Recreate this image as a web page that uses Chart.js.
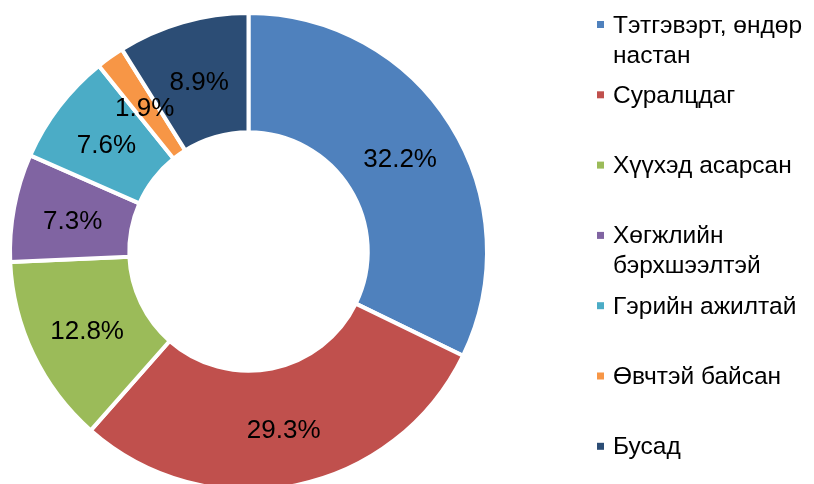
<!DOCTYPE html>
<html>
<head>
<meta charset="utf-8">
<script src="https://cdn.jsdelivr.net/npm/chart.js@4/dist/chart.umd.min.js"></script>
<style>
  html, body { margin: 0; padding: 0; background: #fff; overflow: hidden; }
  #wrap { width: 814px; height: 484px; overflow: hidden; position: relative; }
  canvas { display: block; }
</style>
</head>
<body>
<div id="wrap"><canvas id="c" width="814" height="500"></canvas></div>
<script>
// Categories (each entry is the lines of a legend label)
const categories = [
  ['Тэтгэвэрт, өндөр', 'настан'],
  ['Суралцдаг'],
  ['Хүүхэд асарсан'],
  ['Хөгжлийн', 'бэрхшээлтэй'],
  ['Гэрийн ажилтай'],
  ['Өвчтэй байсан'],
  ['Бусад']
];
// Percent shares
const values = [32.2, 29.3, 12.8, 7.3, 7.6, 1.9, 8.9];
const colors = ['#4F81BD', '#C0504D', '#9BBB59', '#8064A2', '#4BACC6', '#F79646', '#2C4D75'];

const FONT = '"Liberation Sans", Arial, sans-serif';

const labelPlugin = {
  id: 'sliceLabels',
  afterDatasetsDraw(chart) {
    const ctx = chart.ctx;
    const meta = chart.getDatasetMeta(0);
    ctx.save();
    ctx.font = '26px ' + FONT;
    ctx.fillStyle = '#000';
    ctx.textAlign = 'center';
    ctx.textBaseline = 'middle';
    meta.data.forEach((arc, i) => {
      const p = arc.tooltipPosition();
      ctx.fillText(values[i].toFixed(1) + '%', p.x, p.y + 3.5);
    });
    ctx.restore();
  }
};

const legendPlugin = {
  id: 'sideLegend',
  afterDraw(chart) {
    const ctx = chart.ctx;
    ctx.save();
    ctx.font = '24.5px ' + FONT;
    ctx.textAlign = 'left';
    ctx.textBaseline = 'alphabetic';
    const x0 = 597, tx = 613, base0 = 32.5, step = 70.3, lineH = 30;
    categories.forEach((lines, i) => {
      const b = base0 + step * i;
      ctx.fillStyle = colors[i];
      ctx.fillRect(x0, b - 11.5, 7, 7);
      ctx.fillStyle = '#000';
      lines.forEach((ln, j) => ctx.fillText(ln, tx, b + j * lineH));
    });
    ctx.restore();
  }
};

new Chart(document.getElementById('c'), {
  type: 'doughnut',
  data: {
    labels: categories.map(l => l.join(' ')),
    datasets: [{
      data: values,
      backgroundColor: colors,
      borderColor: '#ffffff',
      borderWidth: 4,
      hoverBorderWidth: 4,
      hoverOffset: 0
    }]
  },
  options: {
    responsive: false,
    animation: false,
    cutout: '50%',
    rotation: 0,
    layout: { padding: { left: 8, top: 11, right: 325, bottom: 8 } },
    plugins: {
      legend: { display: false },
      tooltip: { enabled: false }
    }
  },
  plugins: [labelPlugin, legendPlugin]
});
</script>
</body>
</html>
